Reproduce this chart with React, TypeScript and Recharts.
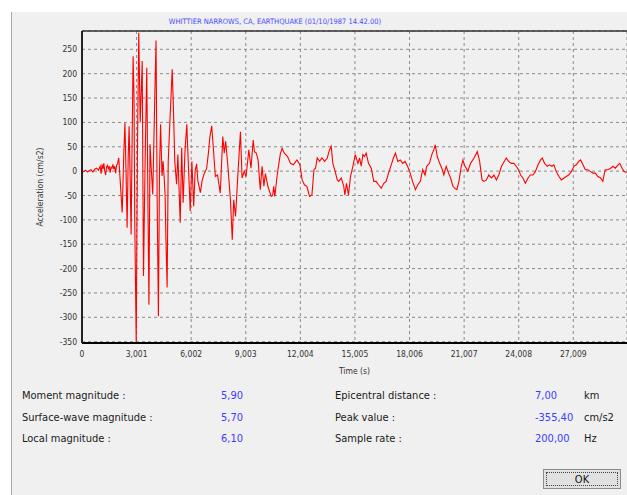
import React from "react";
import { LineChart, Line, XAxis, YAxis, CartesianGrid, ReferenceLine, Label } from "recharts";

// time (s) and acceleration (cm/s2)
const TIME = [
  0, 0.1, 0.2, 0.3, 0.4, 0.5, 0.6, 0.7, 0.8, 0.9,
  1.0, 1.05, 1.1, 1.15, 1.2, 1.25, 1.3, 1.35, 1.4, 1.45,
  1.5, 1.55, 1.6, 1.65, 1.7, 1.75, 1.8, 1.85, 1.9, 1.95,
  2.02, 2.1, 2.21, 2.3, 2.36, 2.42, 2.48, 2.54, 2.59, 2.65,
  2.7, 2.76, 2.81, 2.86, 2.9, 2.98, 3.05, 3.12, 3.2, 3.31,
  3.38, 3.47, 3.56, 3.62, 3.68, 3.74, 3.8, 3.89, 4.0, 4.07,
  4.13, 4.2, 4.26, 4.32, 4.4, 4.46, 4.52, 4.57, 4.62, 4.68,
  4.74, 4.83, 4.96, 5.02, 5.1, 5.2, 5.27, 5.4, 5.48, 5.56,
  5.66, 5.76, 5.84, 5.95, 6.04, 6.14, 6.22, 6.3, 6.37, 6.51,
  6.6, 6.7, 6.85, 6.94, 7.03, 7.13, 7.22, 7.33, 7.45, 7.6,
  7.74, 7.82, 7.9, 8.02, 8.16, 8.26, 8.34, 8.44, 8.58, 8.71,
  8.8, 8.92, 9.02, 9.17, 9.29, 9.41, 9.48, 9.58, 9.68, 9.8,
  9.9, 10.0, 10.08, 10.22, 10.4, 10.48, 10.54, 10.6, 10.72, 10.9,
  11.0, 11.12, 11.3, 11.46, 11.62, 11.81, 11.98, 12.1, 12.23, 12.36,
  12.51, 12.64, 12.75, 12.84, 12.93, 13.06, 13.19, 13.34, 13.48, 13.61,
  13.7, 13.79, 13.92, 14.03, 14.12, 14.25, 14.39, 14.45, 14.54, 14.65,
  14.76, 14.89, 15.02, 15.17, 15.26, 15.35, 15.44, 15.53, 15.62, 15.75,
  15.9, 16.04, 16.17, 16.3, 16.45, 16.59, 16.72, 16.85, 17.0, 17.12,
  17.23, 17.36, 17.5, 17.63, 17.76, 17.9, 18.04, 18.17, 18.33, 18.46,
  18.6, 18.73, 18.86, 18.95, 19.1, 19.23, 19.34, 19.42, 19.53, 19.66,
  19.78, 19.89, 20.02, 20.15, 20.26, 20.39, 20.48, 20.61, 20.72, 20.85,
  20.94, 21.03, 21.21, 21.36, 21.55, 21.73, 21.86, 21.99, 22.1, 22.23,
  22.36, 22.51, 22.65, 22.78, 22.91, 23.06, 23.21, 23.32, 23.45, 23.6,
  23.74, 23.87, 24.0, 24.11, 24.24, 24.37, 24.52, 24.64, 24.79, 24.92,
  25.07, 25.21, 25.3, 25.43, 25.58, 25.7, 25.83, 25.94, 26.07, 26.22,
  26.35, 26.5, 26.62, 26.75, 26.9, 27.04, 27.17, 27.3, 27.41, 27.54,
  27.67, 27.81, 27.96, 28.09, 28.22, 28.36, 28.51, 28.63, 28.76, 28.91,
  29.06, 29.19, 29.32, 29.47, 29.56, 29.69, 29.8, 29.95,
];

const ACCEL = [
  0, -1, 2, -2, 1, 3, -2, 4, 6, 2,
  10, -5, 14, 4, 16, 0, -8, 8, 12, 5,
  10, -3, 8, 6, 14, 4, 10, -4, 12, 15,
  27, -20, -85, 40, 99, 0, -116, 30, 92, -20,
  -130, 80, 236, 150, -100, -352, 50, 284, 100, 226,
  -215, 20, 212, -50, -274, 55, 10, -48, 150, 268,
  -50, -298, 0, 96, -10, 20, -15, -51, -150, -239,
  20, 100, 209, 137, 20, -27, 34, -106, 48, -65,
  40, 96, 20, -82, 20, -72, 0, 15, -20, -44,
  -20, -7, 5, 34, 70, 93, 47, -11, -8, -45,
  71, 37, 61, 10, -59, -141, -59, -93, 0, 81,
  -14, 0, -11, 44, 6, 64, 40, 37, 23, -38,
  10, -31, -5, -31, -52, -50, -31, -52, -11, 35,
  47, 37, 30, 16, 13, 23, 13, -18, -28, -31,
  -52, -49, 3, 6, 27, 20, 27, 20, 27, 44,
  51, 16, -1, -18, -21, -14, -31, -49, -25, -49,
  -11, 10, 34, 16, 27, 10, 34, 30, 37, 16,
  6, -21, -21, -28, -35, -25, -21, -4, 13, 27,
  37, 20, 23, 16, 20, 10, -4, -21, -38, -28,
  -21, 3, -8, 10, 16, 34, 44, 54, 30, 16,
  6, -8, 10, -4, -14, -31, -35, -38, -21, 10,
  23, 12, 0, 16, 27, 40, 20, -18, -21, -18,
  -8, -14, -8, -18, -8, 10, 20, 27, 20, 16,
  16, 10, 3, -8, -14, -25, -14, -8, -8, -1,
  13, 23, 27, 16, 10, 13, 10, 13, -1, -11,
  -18, -14, -11, -8, -1, 10, 13, 20, 23, 13,
  3, 3, -1, -4, -4, -11, -14, -21, 3, 3,
  6, 10, 6, 13, 16, 6, -1, -3,
];

const X_TICKS = [0, 3.001, 6.002, 9.003, 12.004, 15.005, 18.006, 21.007, 24.008, 27.009];
const X_MINOR_TICKS = [
  0.75, 1.5, 2.25, 3.75, 4.5, 5.25, 6.75, 7.5, 8.25, 9.75, 10.5, 11.25,
  12.75, 13.5, 14.25, 15.75, 16.5, 17.25, 18.75, 19.5, 20.25, 21.75, 22.5,
  23.25, 24.75, 25.5, 26.25, 27.75, 28.5, 29.25,
];
const Y_TICKS = [-350, -300, -250, -200, -150, -100, -50, 0, 50, 100, 150, 200, 250];
const X_DOMAIN = [0, 29.96];
const Y_DOMAIN = [-352.7, 287.6];

const TITLE = "WHITTIER NARROWS, CA, EARTHQUAKE (01/10/1987 14.42.00)";

const LEFT_LABELS = ["Moment magnitude :", "Surface-wave magnitude :", "Local magnitude :"];
const LEFT_VALUES = ["5,90", "5,70", "6,10"];
const RIGHT_LABELS = ["Epicentral distance :", "Peak value :", "Sample rate :"];
const RIGHT_VALUES = ["7,00", "-355,40", "200,00"];
const RIGHT_UNITS = ["km", "cm/s2", "Hz"];

const FONT = "'DejaVu Sans Condensed', 'DejaVu Sans', 'Liberation Sans', Arial, sans-serif";
const BLUE = "#3c3cff";
const ROW_TOP = [389, 411, 432];

const fmtX = (v: number) => (v === 0 ? "0" : v.toFixed(3).replace(".", ","));

export default function App() {
  const data = TIME.map((t, i) => ({ t, a: ACCEL[i] }));

  const txt = (left: number, top: number, color: string) => ({
    position: "absolute" as const,
    left,
    top,
    fontSize: 11,
    fontFamily: FONT,
    color,
    whiteSpace: "nowrap" as const,
    lineHeight: "14px",
  });

  const axisText = { fill: "#333", fontSize: 8.5, fontFamily: FONT };

  return (
    <div
      style={{
        position: "absolute",
        left: 0,
        top: 0,
        width: 627,
        height: 495,
        background: "#ffffff",
        overflow: "hidden",
      }}
    >
      <div
        style={{
          position: "absolute",
          left: 11,
          top: 12,
          right: 0,
          bottom: 0,
          background: "#f0f0f0",
          borderLeft: "1px solid #a8a8a8",
        }}
      />
      <div
        style={{
          position: "absolute",
          left: 0,
          top: 17,
          width: 550,
          textAlign: "center",
          fontSize: 7.5,
          fontFamily: FONT,
          color: "#4b4bff",
          lineHeight: "10px",
        }}
      >
        {TITLE}
      </div>

      <div style={{ position: "absolute", left: 0, top: 0 }}>
        <LineChart width={627} height={380} data={data} margin={{ top: 31, right: 0, bottom: 0, left: 0 }}>
          <CartesianGrid stroke="#8a8a8a" strokeDasharray="3 3" />
          <XAxis
            dataKey="t"
            type="number"
            domain={X_DOMAIN}
            ticks={X_TICKS}
            tickFormatter={fmtX}
            height={37}
            axisLine={{ stroke: "#000", strokeWidth: 2 }}
            tickLine={false}
            tick={axisText}
            allowDataOverflow
          >
            <Label value="Time (s)" position="insideBottom" offset={6} style={axisText} />
          </XAxis>
          <XAxis
            xAxisId="minor"
            dataKey="t"
            type="number"
            domain={X_DOMAIN}
            ticks={X_MINOR_TICKS}
            height={0}
            mirror
            tick={false}
            tickSize={3}
            tickLine={{ stroke: "#333" }}
            axisLine={false}
            allowDataOverflow
          />
          <YAxis
            type="number"
            domain={Y_DOMAIN}
            ticks={Y_TICKS}
            width={82}
            tickSize={3}
            tickMargin={2}
            axisLine={{ stroke: "#222", strokeWidth: 2 }}
            tickLine={false}
            tick={axisText}
            allowDataOverflow
          >
            <Label
              value="Acceleration (cm/s2)"
              angle={-90}
              position="center"
              dx={-1}
              style={{ ...axisText, textAnchor: "middle" }}
            />
          </YAxis>
          <ReferenceLine y={Y_DOMAIN[1]} stroke="#333" strokeWidth={1.5} />
          <Line
            type="linear"
            dataKey="a"
            stroke="#ff0000"
            strokeWidth={1.1}
            dot={false}
            isAnimationActive={false}
          />
        </LineChart>
      </div>

      {LEFT_LABELS.map((l, i) => (
        <div key={l} style={txt(22, ROW_TOP[i], "#1a1a1a")}>{l}</div>
      ))}
      {LEFT_VALUES.map((v, i) => (
        <div key={"lv" + i} style={txt(221, ROW_TOP[i], BLUE)}>{v}</div>
      ))}
      {RIGHT_LABELS.map((l, i) => (
        <div key={l} style={txt(335, ROW_TOP[i], "#1a1a1a")}>{l}</div>
      ))}
      {RIGHT_VALUES.map((v, i) => (
        <div key={"rv" + i} style={txt(535, ROW_TOP[i], BLUE)}>{v}</div>
      ))}
      {RIGHT_UNITS.map((u, i) => (
        <div key={u} style={txt(584, ROW_TOP[i], "#1a1a1a")}>{u}</div>
      ))}

      <div
        style={{
          position: "absolute",
          left: 543,
          top: 469,
          width: 78,
          height: 20,
          boxSizing: "border-box",
          border: "1px solid #8c8c8c",
          background: "#e1e1e1",
        }}
      >
        <div
          style={{
            position: "absolute",
            left: 2,
            top: 2,
            right: 2,
            bottom: 2,
            border: "1px dotted #444",
            textAlign: "center",
            fontSize: 11,
            fontFamily: FONT,
            color: "#111",
            lineHeight: "14px",
          }}
        >
          OK
        </div>
      </div>
    </div>
  );
}
